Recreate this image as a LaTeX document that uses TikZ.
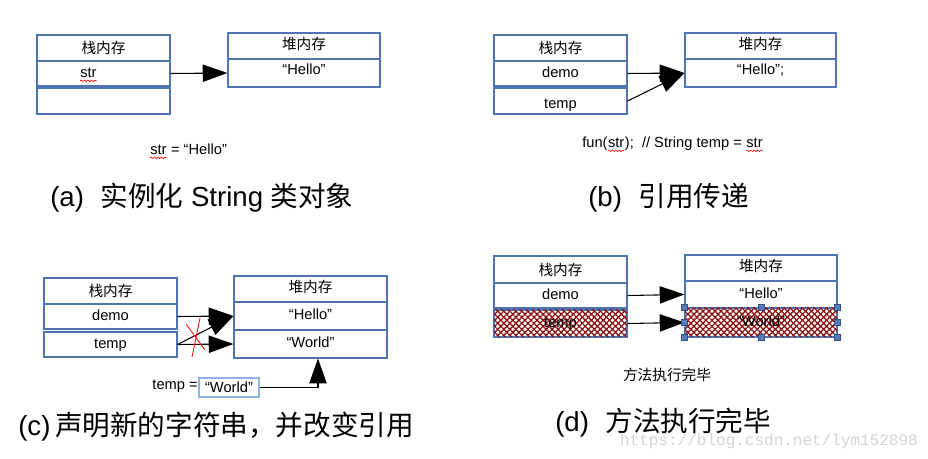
\documentclass[tikz,border=0pt]{standalone}
\usepackage{fontspec}
\setmainfont{Liberation Sans}
\newfontfamily\cjk{Noto Sans CJK SC}
\newfontfamily\wmfont{Liberation Mono}
\usetikzlibrary{arrows.meta,patterns.meta,decorations.pathmorphing}
\definecolor{boxblue}{RGB}{79,116,178}
\definecolor{lightblue}{RGB}{141,180,226}
\definecolor{hatchred}{RGB}{140,20,20}
\definecolor{handleblue}{RGB}{84,125,192}
\definecolor{wmgray}{RGB}{212,212,212}
\tikzset{
  cell/.style 2 args={draw=boxblue, line width=0.9pt, minimum width=#1*0.75pt, minimum height=#2*0.75pt, inner sep=0pt, text height=8pt, text depth=2pt, font=\fontsize{11}{13}\selectfont},
  txt/.style={inner sep=0pt, font=\fontsize{11}{13}\selectfont},
  btxt/.style={txt, anchor=base west},
  captext/.style={inner sep=0pt, anchor=west, font=\fontsize{20.7}{24}\selectfont},
  arr/.style={draw=black, line width=0.8pt, -{Triangle[length=18.5pt,width=13pt]}},
  wave/.style={red, line width=0.45pt, decorate, decoration={snake, amplitude=0.6pt, segment length=2.6pt}},
  hatch/.style={preaction={pattern={Lines[angle=45,distance=3.2pt,line width=1pt]}, pattern color=hatchred},
                postaction={pattern={Lines[angle=-45,distance=3.2pt,line width=1pt]}, pattern color=hatchred}},
  handle/.style={draw=boxblue!70!black, fill=handleblue, minimum size=4.5pt, inner sep=0pt, line width=0.4pt},
  wm/.style={inner sep=0pt, text=wmgray, font=\wmfont\fontsize{12}{14}\selectfont}
}
\begin{document}
\begin{tikzpicture}[x=0.75pt,y=-0.75pt]
\path[use as bounding box] (0,0) rectangle (928,459);
% (a)
\node[cell={133}{26}] (aS) at (103.5,48) {\raisebox{-1.5pt}{\cjk 栈内存}};
\node[cell={133}{25}] (aStr) at (103.5,73.5) {};
\node[btxt] (aStrT) at (80,78) {str};
\draw[wave] ([yshift=-1.8pt]aStrT.south west) -- ([yshift=-1.8pt]aStrT.south east);
\node[cell={133}{26}] (aEmpty) at (103.5,101) {};
\node[cell={152}{26}] (aH) at (304,46) {\cjk 堆内存};
\node[cell={152}{28}] (aHello) at (304,73) {\raisebox{1.5pt}{“Hello”}};
\draw[arr] (aStr.east) -- (aHello.west);
\node[btxt] (aC1) at (150,155) {str};
\node[btxt] (aC2) at ([xshift=3pt]aC1.base east) {= “Hello”};
\draw[wave] ([yshift=-1.8pt]aC1.south west) -- ([yshift=-1.8pt]aC1.south east);
\node[captext] (aCap) at (50,198) {(a)\hspace{0.6em}{\cjk 实例化} String {\cjk 类对象}};
% (b)
\node[cell={133}{26}] (bS) at (560.5,48) {\raisebox{-1.5pt}{\cjk 栈内存}};
\node[cell={133}{25}] (bDemo) at (560.5,73.5) {demo};
\node[cell={133}{26}] (bTemp) at (560.5,101) {\raisebox{-2.5pt}{temp}};
\node[cell={151}{26}] (bH) at (760.5,46) {\cjk 堆内存};
\node[cell={151}{28}] (bHello) at (760.5,73) {\raisebox{1.5pt}{“Hello”;}};
\draw[arr] (bDemo.east) -- (bHello.west);
\draw[arr] (bTemp.east) -- (bHello.west);
\node[btxt] (bC1) at (582,148) {fun(};
\node[btxt] (bC2) at (bC1.base east) {str};
\node[btxt] (bC3) at (bC2.base east) {);\ \ // String temp =};
\node[btxt] (bC4) at ([xshift=3pt]bC3.base east) {str};
\draw[wave] ([yshift=-1.8pt]bC2.south west) -- ([yshift=-1.8pt]bC2.south east);
\draw[wave] ([yshift=-1.8pt]bC4.south west) -- ([yshift=-1.8pt]bC4.south east);
\node[captext] (bCap) at (588,198) {(b)\hspace{0.6em}{\cjk 引用传递}};
% (c)
\node[cell={133}{26}] (cS) at (110.5,291) {\raisebox{-1.5pt}{\cjk 栈内存}};
\node[cell={133}{25}] (cDemo) at (110.5,316.5) {demo};
\node[cell={133}{25}] (cTemp) at (110.5,344.5) {temp};
\node[cell={153}{26}] (cH) at (310.5,289) {\cjk 堆内存};
\node[cell={153}{28}] (cHello) at (310.5,316) {“Hello”};
\node[cell={153}{28}] (cWorld) at (310.5,344) {“World”};
\draw[arr] (cDemo.east) -- (cHello.west);
\draw[arr] (cTemp.east) -- (cHello.west);
\draw[arr] (cTemp.east) -- (cWorld.west);
\draw[red, line width=0.6pt] (186,324) -- (205,350) (200,318) -- (192,357);
\node[txt, anchor=east] (cAssign) at (198,386) {temp =};
\node[draw=lightblue, line width=0.8pt, minimum width=60*0.75pt, minimum height=19*0.75pt, inner sep=0pt, font=\fontsize{11}{13}\selectfont] (cNew) at (229,387.5) {“World”};
\draw[arr] (cNew.east) -| ([xshift=7.5*0.75pt]cWorld.south);
\node[captext] (cCap) at (18,427) {(c)\,{\cjk 声明新的字符串，并改变引用}};
% (d)
\node[cell={133}{27}] (dS) at (560.5,269.5) {\raisebox{-1.5pt}{\cjk 栈内存}};
\node[cell={133}{25}] (dDemo) at (560.5,295.5) {demo};
\node[cell={133}{27},hatch] (dTemp) at (560.5,323.5) {temp};
\node[cell={152}{26}] (dH) at (761,268) {\cjk 堆内存};
\node[cell={152}{27}] (dHello) at (761,294.5) {“Hello”};
\node[cell={152}{29},hatch] (dWorld) at (761,322.5) {“World”};
\draw[arr] (dDemo.east) -- (dHello.west);
\draw[arr] (dTemp.east) -- (dWorld.west);
\foreach \a/\n in {north west/1,north/2,north east/3,west/4,east/5,south west/6,south/7,south east/8}
  \node[handle] (dHd\n) at (dWorld.\a) {};
\node[txt] (dCode) at (667,375) {\cjk 方法执行完毕};
\node[captext] (dCap) at (555,423) {(d)\hspace{0.6em}{\cjk 方法执行完毕}};
\node[wm] (wm) at (769,441) {https://blog.csdn.net/lym152898};
\end{tikzpicture}
\end{document}
